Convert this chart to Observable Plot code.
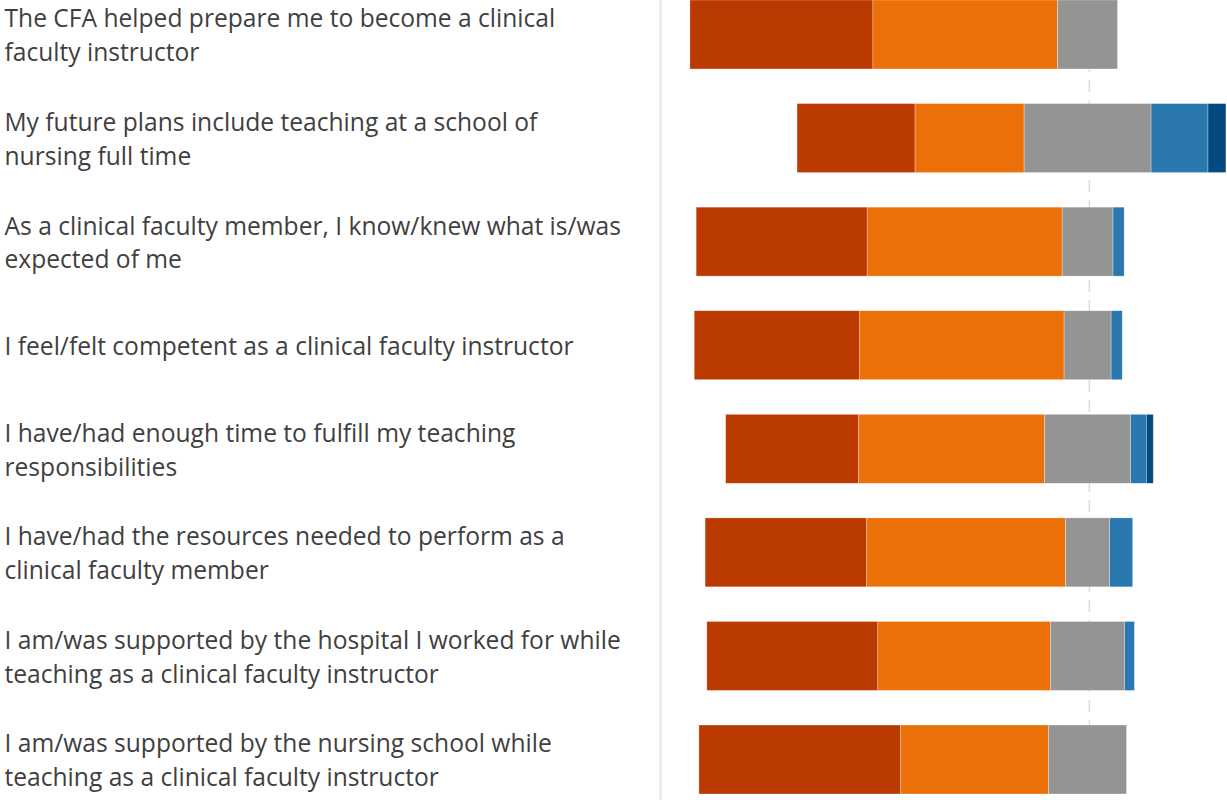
<!DOCTYPE html>
<html>
<head>
<meta charset="utf-8">
<script src="https://cdn.jsdelivr.net/npm/d3@7"></script>
<script src="https://cdn.jsdelivr.net/npm/@observablehq/plot@0.6"></script>
<style>
  html, body { margin: 0; padding: 0; background: #fff; }
  #chart svg { display: block; }
</style>
</head>
<body>
<div id="chart"></div>
<script>
const statements = [
  "The CFA helped prepare me to become a clinical\nfaculty instructor",
  "My future plans include teaching at a school of\nnursing full time",
  "As a clinical faculty member, I know/knew what is/was\nexpected of me",
  "I feel/felt competent as a clinical faculty instructor",
  "I have/had enough time to fulfill my teaching\nresponsibilities",
  "I have/had the resources needed to perform as a\nclinical faculty member",
  "I am/was supported by the hospital I worked for while\nteaching as a clinical faculty instructor",
  "I am/was supported by the nursing school while\nteaching as a clinical faculty instructor"
];
const levels = ["Strongly agree", "Agree", "Neutral", "Disagree", "Strongly disagree"];
const colors = ["#BA3A02", "#EA7007", "#949494", "#2A78AF", "#044A81"];

const stronglyAgree    = [42.8, 27.6, 40.0, 38.6, 31.1, 37.8, 40.0, 47.2];
const agree            = [43.2, 25.5, 45.6, 47.9, 43.5, 46.5, 40.4, 34.6];
const neutral          = [14.0, 29.7, 11.9, 11.0, 20.1, 10.3, 17.3, 18.2];
const disagree         = [ 0.0, 13.3,  2.6,  2.6,  3.7,  5.4,  2.3,  0.0];
const stronglyDisagree = [ 0.0,  4.2,  0.0,  0.0,  1.6,  0.0,  0.0,  0.0];

const series = [stronglyAgree, agree, neutral, disagree, stronglyDisagree];

// diverging stack: neutral centred on zero
const rows = [];
statements.forEach((s, i) => {
  let start = -(stronglyAgree[i] + agree[i] + neutral[i] / 2);
  series.forEach((arr, k) => {
    const v = arr[i];
    if (v > 0) rows.push({statement: s, level: levels[k], x1: start, x2: start + v});
    start += v;
  });
});

const chart = Plot.plot({
  width: 1227,
  height: 800,
  marginLeft: 660,
  marginRight: 0,
  marginTop: 0,
  marginBottom: 6,
  style: {fontFamily: "'Open Sans', 'Noto Sans', sans-serif", background: "#fff"},
  x: {domain: [-100, 32.6], axis: null},
  y: {domain: statements, paddingInner: 0.334, paddingOuter: 0, align: 0, round: false, axis: null},
  color: {domain: levels, range: colors},
  marks: [
    Plot.ruleX([-100], {stroke: "#e4e4e4", strokeWidth: 2, insetBottom: -6}),
    Plot.ruleX([0.3], {stroke: "#dcdcdc", strokeWidth: 1.5, strokeDasharray: "12,8", insetBottom: -6}),
    Plot.barX(rows, {
      y: "statement", x1: "x1", x2: "x2", fill: "level",
      stroke: "#ffffff", strokeWidth: 0.6, strokeOpacity: 0.5
    }),
    Plot.text(statements, {
      y: d => d, text: d => d,
      frameAnchor: "left", textAnchor: "start", dx: -656, dy: -1.5,
      fontSize: 24.6, lineHeight: 1.38, fill: "#3f3f3f"
    })
  ]
});
document.getElementById("chart").appendChild(chart);
</script>
</body>
</html>
